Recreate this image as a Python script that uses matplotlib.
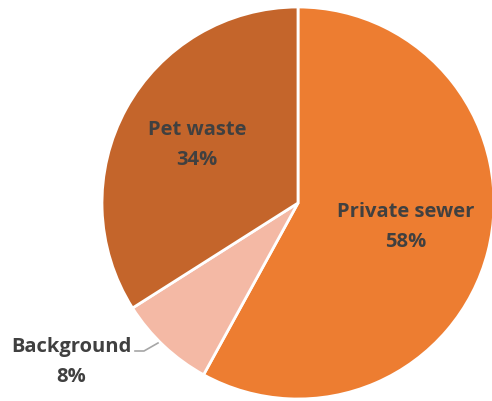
import matplotlib.pyplot as plt

# Data
labels = ['Private sewer', 'Background', 'Pet waste']
shares = [58, 8, 34]
colors = ['#ED7D31', '#F4B9A5', '#C4652B']

fig = plt.figure(figsize=(4.92, 4.02), dpi=100)
ax = fig.add_axes([0, 0, 1, 1])

cx, cy, r = 298, 198, 196
wedges, _ = ax.pie(shares, colors=colors, startangle=90, counterclock=False,
                   radius=r, center=(cx, cy), frame=True,
                   wedgeprops=dict(edgecolor='white', linewidth=2))
ax.set_xlim(0, 492)
ax.set_ylim(0, 402)
ax.axis('off')

txt = dict(fontsize=14.5, fontweight='bold', color='#404040',
           family='Open Sans', ha='center', va='center', linespacing=1.65)
ax.text(406, 175, f'{labels[0]}\n{shares[0]}%', **txt)
ax.text(197, 257, f'{labels[2]}\n{shares[2]}%', **txt)
ax.text(71, 40, f'{labels[1]}\n{shares[1]}%', **txt)
ax.plot([135, 144, 158], [50, 50, 58], color='#A6A6A6', lw=1.2)

fig.savefig('out.png', dpi=100)
